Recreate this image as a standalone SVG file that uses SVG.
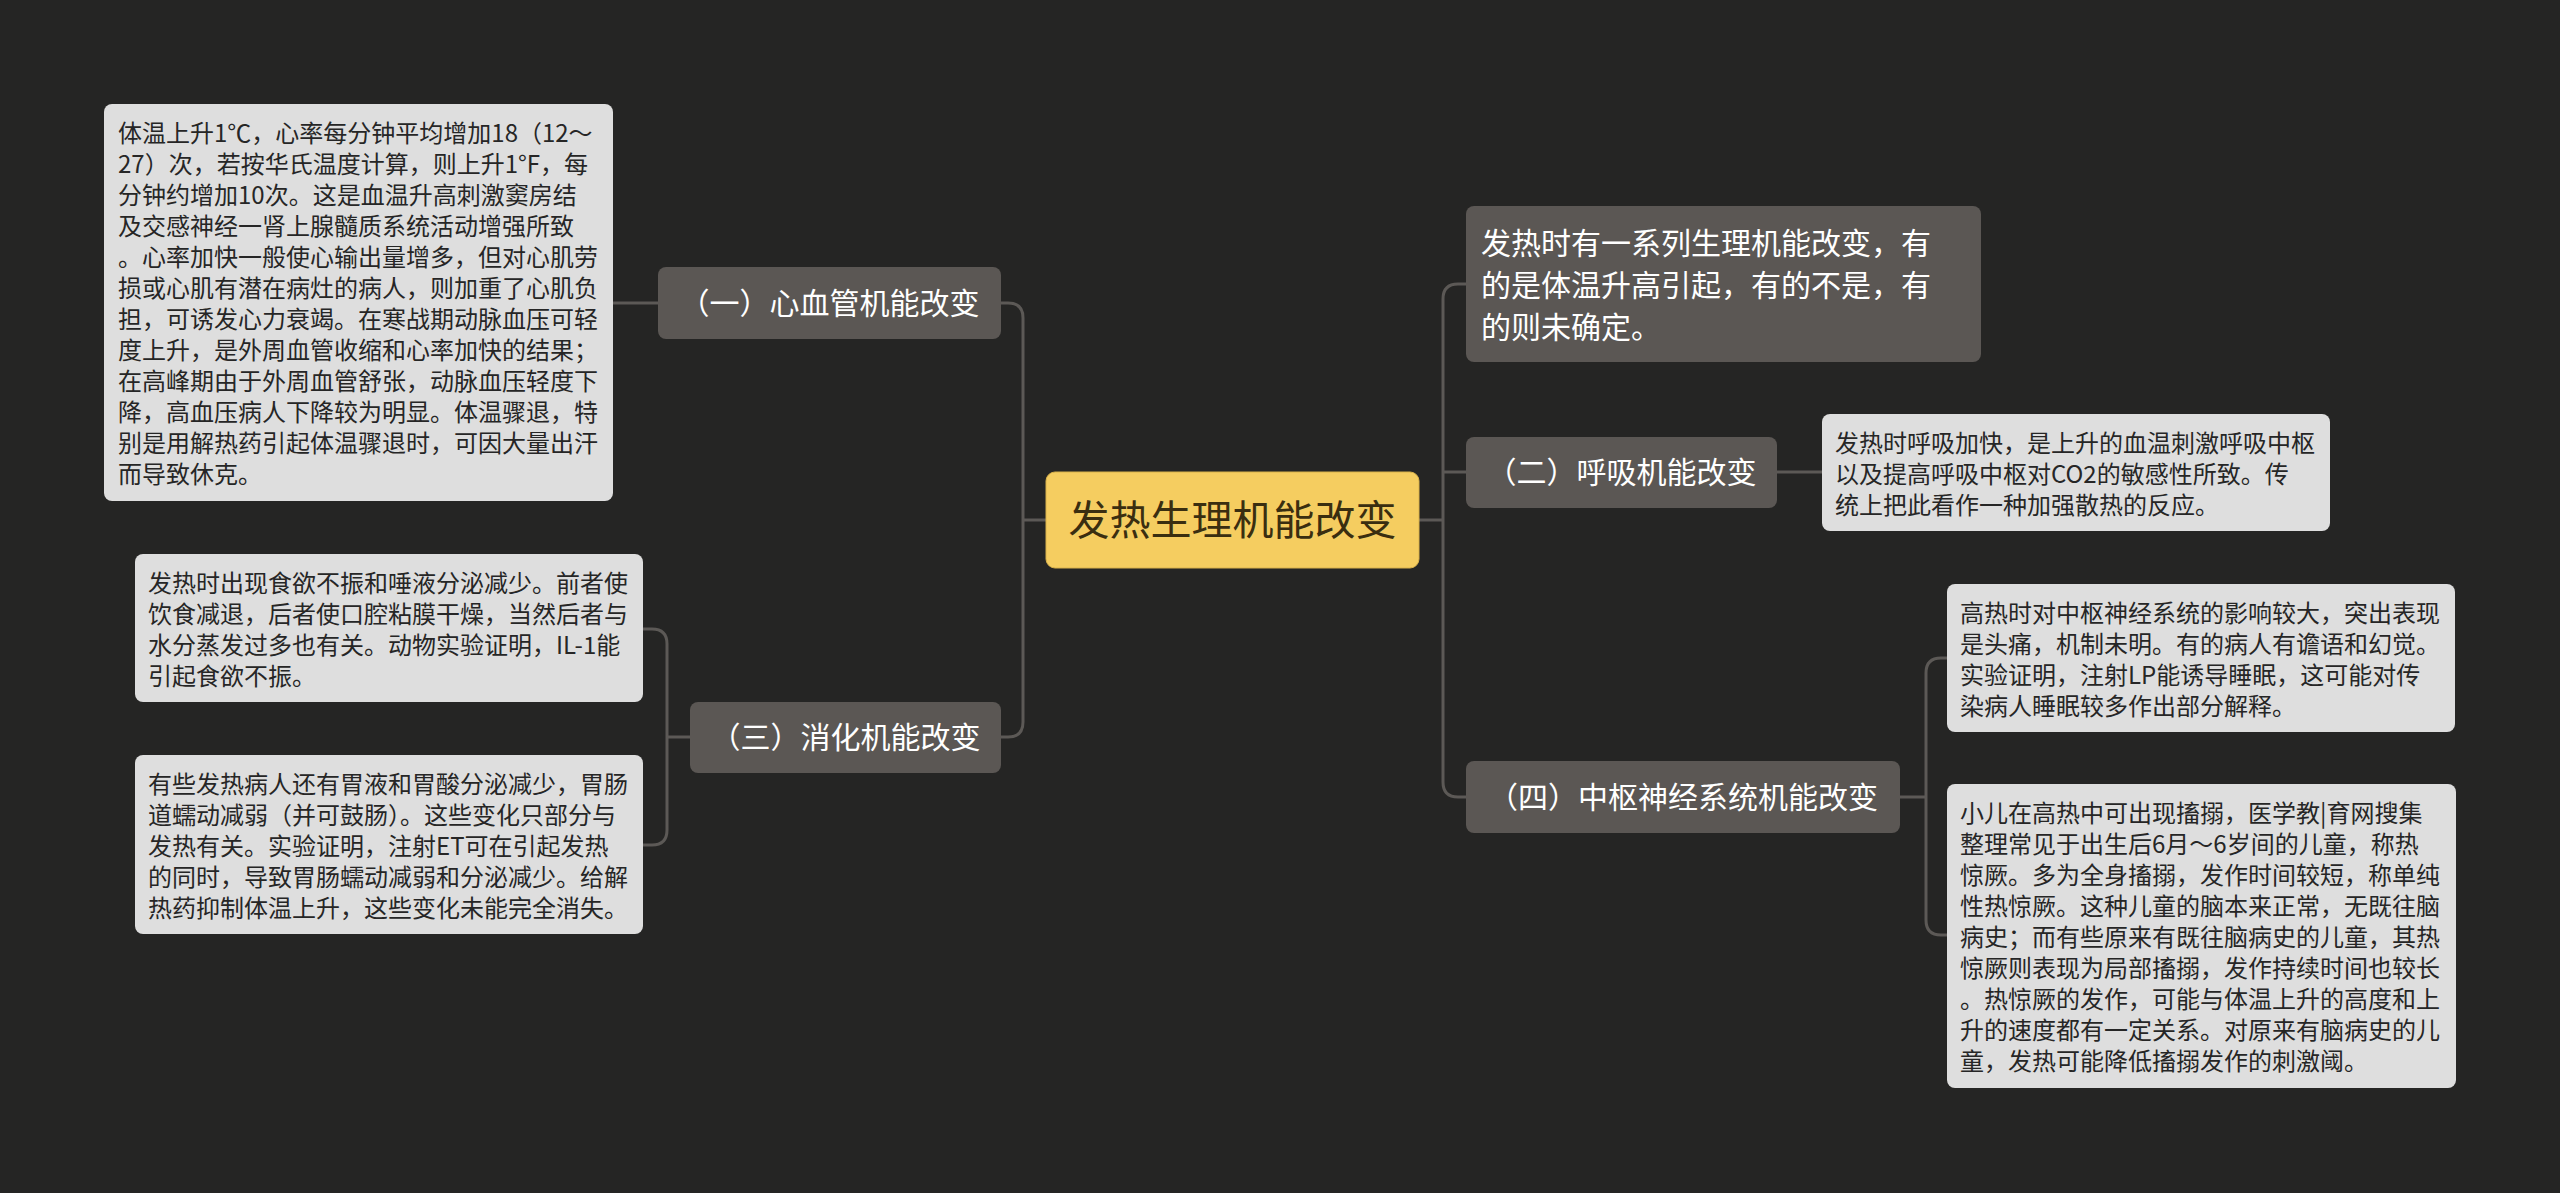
<svg xmlns="http://www.w3.org/2000/svg" width="2560" height="1193" viewBox="0 0 2560 1193">
<style>
.bg{fill:#252524}
.conn{fill:none;stroke:#5c5956;stroke-width:3}
.root rect{fill:#f5cd60;stroke:#d9b24a;stroke-width:1}
.root text{font-family:"Noto Sans CJK SC","Noto Sans",sans-serif;font-size:41px;fill:#3a2e10;text-anchor:middle}
.br rect{fill:#5b5754}
.br text{font-family:"Noto Sans CJK SC","Noto Sans",sans-serif;font-size:30px;fill:#ffffff}
.br text.c{text-anchor:middle}
.dt rect{fill:#dedede}
.dt text{font-family:"Noto Sans CJK SC","Noto Sans",sans-serif;font-size:24px;fill:#262626}
</style>
<rect class="bg" x="0" y="0" width="2560" height="1193"/>
<g id="connectors">
<path class="conn" d="M1046,520 H1023"/>
<path class="conn" d="M1001,303 H1008 Q1023,303 1023,318 V722 Q1023,737 1008,737 H1001"/>
<path class="conn" d="M658,303 H613"/>
<path class="conn" d="M690,737 H667"/>
<path class="conn" d="M643,629 H652 Q667,629 667,644 V830 Q667,845 652,845 H643"/>
<path class="conn" d="M1419,520 H1443"/>
<path class="conn" d="M1466,284 H1458 Q1443,284 1443,299 V782 Q1443,797 1458,797 H1466"/>
<path class="conn" d="M1443,472 H1466"/>
<path class="conn" d="M1777,472 H1822"/>
<path class="conn" d="M1900,797 H1926"/>
<path class="conn" d="M1947,658 H1941 Q1926,658 1926,673 V920 Q1926,935 1941,935 H1947"/>
</g>
<g id="root" class="root">
<rect x="1046" y="472" width="373" height="96" rx="9"/>
<text x="1232.5" y="535">发热生理机能改变</text>
</g>
<g id="b1" class="br">
<rect x="658" y="267" width="343" height="72" rx="8"/>
<text class="c" x="829.5" y="314">（一）心血管机能改变</text>
</g>
<g id="b3" class="br">
<rect x="690" y="702" width="311" height="71" rx="8"/>
<text class="c" x="845.5" y="748">（三）消化机能改变</text>
</g>
<g id="r1" class="br">
<rect x="1466" y="206" width="515" height="156" rx="8"/>
<text x="1481" y="254">发热时有一系列生理机能改变，有</text>
<text x="1481" y="296">的是体温升高引起，有的不是，有</text>
<text x="1481" y="338">的则未确定。</text>
</g>
<g id="r2" class="br">
<rect x="1466" y="437" width="311" height="71" rx="8"/>
<text class="c" x="1621.5" y="483">（二）呼吸机能改变</text>
</g>
<g id="r4" class="br">
<rect x="1466" y="761" width="434" height="72" rx="8"/>
<text class="c" x="1683" y="808">（四）中枢神经系统机能改变</text>
</g>
<g id="d1" class="dt">
<rect x="104" y="104" width="509" height="397" rx="8"/>
<text x="118" y="142">体温上升1℃，心率每分钟平均增加18（12～</text>
<text x="118" y="173">27）次，若按华氏温度计算，则上升1°F，每</text>
<text x="118" y="204">分钟约增加10次。这是血温升高刺激窦房结</text>
<text x="118" y="235">及交感神经一肾上腺髓质系统活动增强所致</text>
<text x="118" y="266">。心率加快一般使心输出量增多，但对心肌劳</text>
<text x="118" y="297">损或心肌有潜在病灶的病人，则加重了心肌负</text>
<text x="118" y="328">担，可诱发心力衰竭。在寒战期动脉血压可轻</text>
<text x="118" y="359">度上升，是外周血管收缩和心率加快的结果；</text>
<text x="118" y="390">在高峰期由于外周血管舒张，动脉血压轻度下</text>
<text x="118" y="421">降，高血压病人下降较为明显。体温骤退，特</text>
<text x="118" y="452">别是用解热药引起体温骤退时，可因大量出汗</text>
<text x="118" y="483">而导致休克。</text>
</g>
<g id="d3a" class="dt">
<rect x="135" y="554" width="508" height="148" rx="8"/>
<text x="148" y="592">发热时出现食欲不振和唾液分泌减少。前者使</text>
<text x="148" y="623">饮食减退，后者使口腔粘膜干燥，当然后者与</text>
<text x="148" y="654">水分蒸发过多也有关。动物实验证明，IL-1能</text>
<text x="148" y="685">引起食欲不振。</text>
</g>
<g id="d3b" class="dt">
<rect x="135" y="755" width="508" height="179" rx="8"/>
<text x="148" y="793">有些发热病人还有胃液和胃酸分泌减少，胃肠</text>
<text x="148" y="824">道蠕动减弱（并可鼓肠）。这些变化只部分与</text>
<text x="148" y="855">发热有关。实验证明，注射ET可在引起发热</text>
<text x="148" y="886">的同时，导致胃肠蠕动减弱和分泌减少。给解</text>
<text x="148" y="917">热药抑制体温上升，这些变化未能完全消失。</text>
</g>
<g id="d2" class="dt">
<rect x="1822" y="414" width="508" height="117" rx="8"/>
<text x="1835" y="452">发热时呼吸加快，是上升的血温刺激呼吸中枢</text>
<text x="1835" y="483">以及提高呼吸中枢对CO2的敏感性所致。传</text>
<text x="1835" y="514">统上把此看作一种加强散热的反应。</text>
</g>
<g id="d4a" class="dt">
<rect x="1947" y="584" width="508" height="148" rx="8"/>
<text x="1960" y="622">高热时对中枢神经系统的影响较大，突出表现</text>
<text x="1960" y="653">是头痛，机制未明。有的病人有谵语和幻觉。</text>
<text x="1960" y="684">实验证明，注射LP能诱导睡眠，这可能对传</text>
<text x="1960" y="715">染病人睡眠较多作出部分解释。</text>
</g>
<g id="d4b" class="dt">
<rect x="1947" y="784" width="509" height="304" rx="8"/>
<text x="1960" y="822">小儿在高热中可出现搐搦，医学教|育网搜集</text>
<text x="1960" y="853">整理常见于出生后6月～6岁间的儿童，称热</text>
<text x="1960" y="884">惊厥。多为全身搐搦，发作时间较短，称单纯</text>
<text x="1960" y="915">性热惊厥。这种儿童的脑本来正常，无既往脑</text>
<text x="1960" y="946">病史；而有些原来有既往脑病史的儿童，其热</text>
<text x="1960" y="977">惊厥则表现为局部搐搦，发作持续时间也较长</text>
<text x="1960" y="1008">。热惊厥的发作，可能与体温上升的高度和上</text>
<text x="1960" y="1039">升的速度都有一定关系。对原来有脑病史的儿</text>
<text x="1960" y="1070">童，发热可能降低搐搦发作的刺激阈。</text>
</g>
</svg>
